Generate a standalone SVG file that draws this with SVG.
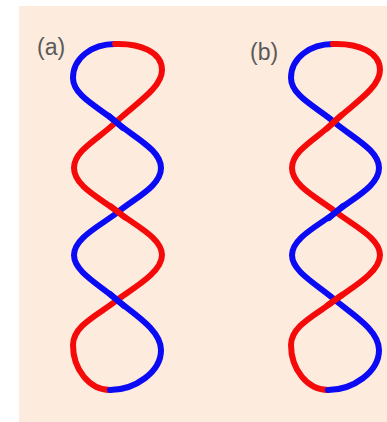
<svg xmlns="http://www.w3.org/2000/svg" width="387" height="422" viewBox="0 0 387 422">
<style>
.bg{fill:#fdebdd}
.s{fill:none;stroke-width:6;stroke-linecap:round;stroke-linejoin:round}
.b{stroke:#0a0af5}
.r{stroke:#f50a0a}
.lbl{font-family:"Liberation Sans",Arial,sans-serif;font-size:23px;fill:#595959}
</style>
<defs>
<g id="strands">
<path class="s b" d="M115,44 C92,44 73,58 73,78 C73,96 100,108 116,122"/>
<path class="s r" d="M115,44 C140,43 162,52 162,70 C162,88 135,104 116,122"/>
<path class="s b" d="M116,122 C135,138 161,150 161,168 C161,186 135,198 118,212"/>
<path class="s r" d="M116,122 C100,138 74,150 74,168 C74,186 100,198 118,212"/>
<path class="s b" d="M118,212 C100,226 74,238 74,255 C74,272 100,285 117,300"/>
<path class="s r" d="M118,212 C136,226 162,238 162,255 C162,272 135,287 117,300"/>
<path class="s r" d="M117,300 C100,314 73,325 73,345 C73,370 90,390 110,390"/>
<path class="s b" d="M117,300 C134,314 161,330 161,350 C161,372 135,390 110,390"/>
</g>
</defs>
<rect class="bg" x="19" y="6" width="368" height="416"/>
<g id="panel-a">
<text class="lbl" x="37" y="55">(a)</text>
<use href="#strands"/>
<g id="over-a">
<path class="s b" d="M109,116 L123,128"/>
<path class="s r" d="M111,206.5 L125,217.5"/>
<path class="s b" d="M110,294 L124,306"/>
</g>
</g>
<g id="panel-b" transform="translate(218,0)">
<text class="lbl" x="32" y="60">(b)</text>
<use href="#strands"/>
<g id="over-b">
<path class="s r" d="M123,115.5 L109,128.5"/>
<path class="s b" d="M125,206 L111,218"/>
<path class="s r" d="M124,295 L110,305"/>
</g>
</g>
</svg>
